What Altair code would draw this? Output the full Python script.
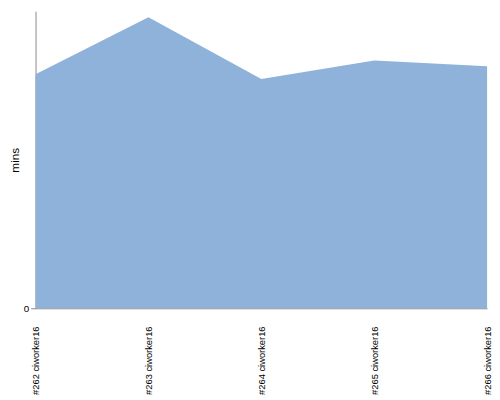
import altair as alt
import pandas as pd

builds = ["#262 ciworker16", "#263 ciworker16", "#264 ciworker16", "#265 ciworker16", "#266 ciworker16"]
mins = [23.64, 29.40, 23.15, 25.03, 24.44]

df = pd.DataFrame({"build": builds, "mins": mins})

chart = alt.Chart(df).mark_area(color="#8fb2da", opacity=1).encode(
    x=alt.X("build:N", sort=builds, title=None,
            scale=alt.Scale(type="point", padding=0),
            axis=alt.Axis(labelAngle=-90, labelFont="Liberation Sans", labelFontSize=9.5,
                          labelColor="#000000", ticks=False, labelPadding=18,
                          domainColor="#888888", labelOverlap=False)),
    y=alt.Y("mins:Q", title="mins", scale=alt.Scale(domain=[0, 30], nice=False),
            axis=alt.Axis(values=[0], grid=False, labelFont="Liberation Sans", labelFontSize=10,
                          labelColor="#000000", titleFont="Liberation Sans", titleFontSize=12,
                          titleFontWeight="normal", titleColor="#000000",
                          domainColor="#888888", tickColor="#888888", tickSize=5,
                          labelPadding=2, titlePadding=2)),
).properties(
    width=459, height=302,
    autosize=alt.AutoSizeParams(type="none"),
    padding={"left": 28, "top": 0, "right": 5, "bottom": 90},
).configure_view(stroke=None)

chart.save("out.html", embed_options={"renderer": "svg", "actions": False})
